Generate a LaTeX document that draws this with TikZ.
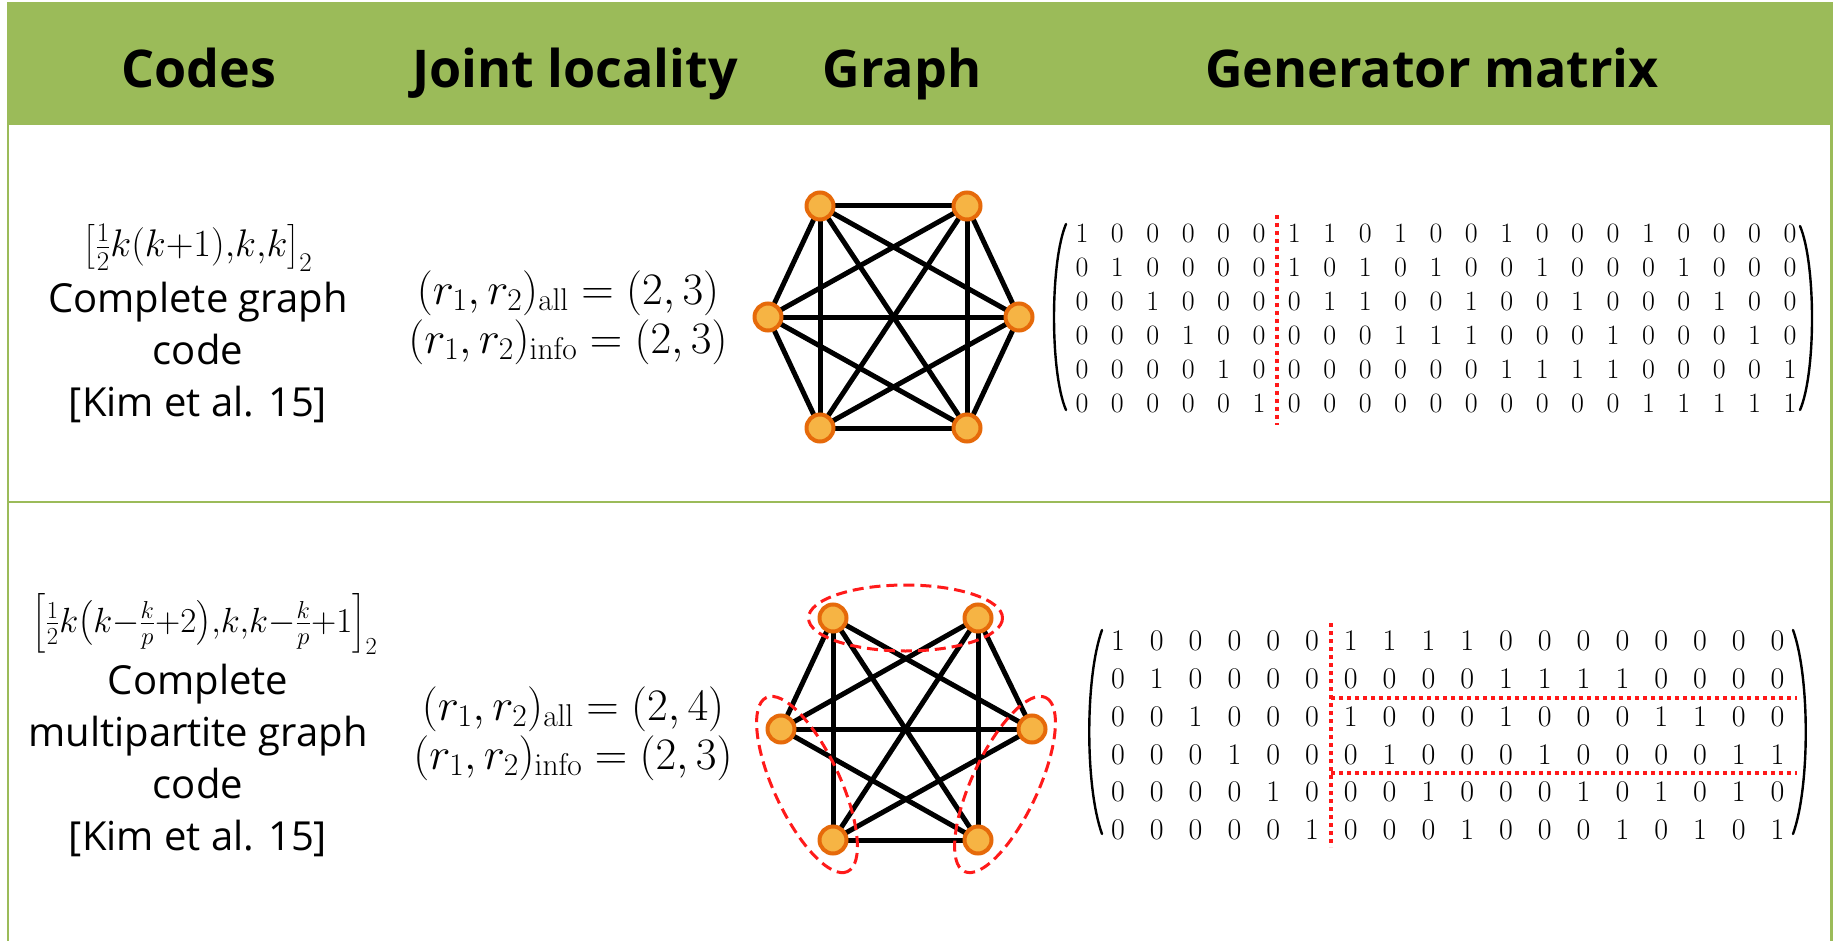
\RequirePackage{fix-cm}
\documentclass[tikz,border=0pt]{standalone}
\usepackage{amsmath}
\usepackage[no-math]{fontspec}
\setmainfont{Open Sans}
\usetikzlibrary{calc,backgrounds}

\definecolor{tablegreen}{HTML}{9BBB59}
\definecolor{vtxring}{HTML}{E66A0A}
\definecolor{vtxfill}{HTML}{F6B444}
\definecolor{cutred}{HTML}{FF1A1A}

\begin{document}
\begin{tikzpicture}[x=1pt,y=-1pt,
	vtx/.style={circle,draw=vtxring,fill=vtxfill,line width=4pt,minimum size=27pt,inner sep=0pt},
	link/.style={line width=5pt},
	cluster/.style={cutred,line width=3pt,dash pattern=on 11pt off 6pt},
	sepline/.style={cutred,line width=4pt,dash pattern=on 4pt off 4pt},
	paren/.style={line width=2.4pt,line cap=round},
	bit/.style={inner sep=0pt,font=\fontsize{28}{28}\selectfont},
	hdr/.style={anchor=base,font=\fontsize{52}{60}\selectfont\bfseries},
	body/.style={anchor=base,align=center,inner sep=1pt,font=\fontsize{40}{52}\selectfont},
	eq/.style={anchor=base,align=center,inner sep=1pt,font=\fontsize{38.5}{48}\selectfont},
	loc/.style={anchor=base,align=center,inner sep=1pt,font=\fontsize{45}{49}\selectfont}]
	\useasboundingbox (0,0) rectangle (1833,941);
	\begin{scope}[on background layer]
		\fill[white] (0,0) rectangle (1833,941);
	\end{scope}
	
	% table
	\fill[tablegreen] (7,2) rectangle (1833,125);
	\draw[tablegreen,line width=2.5pt] (8.2,125) -- (8.2,941)
		(1831.5,125) -- (1831.5,941)
		(8.2,502) -- (1831.5,502);
	\node[hdr] (h-codes) at (199,88) {Codes};
	\node[hdr] (h-loc)   at (575,88) {Joint locality};
	\node[hdr] (h-graph) at (902,88) {Graph};
	\node[hdr] (h-gen)   at (1432,88) {Generator matrix};
	
	% complete graph code
	\node[eq] (code-1) at (198,257) {$\left[\tfrac{1}{2}k(k{+}1){,}k{,}k\right]_2$};
	\node[body] (name-1) at (198,416) {Complete graph\\code\\{[Kim et al. 15]}};
	\node[loc] (loc-1) at (568,353) {$(r_1,r_2)_{\mathrm{all}}=(2,3)$\\$(r_1,r_2)_{\mathrm{info}}=(2,3)$};
	
	\node[vtx] (c-tl) at (820,206) {};
	\node[vtx] (c-tr) at (967,206) {};
	\node[vtx] (c-l)  at (768,317) {};
	\node[vtx] (c-r)  at (1019,317) {};
	\node[vtx] (c-bl) at (820,428) {};
	\node[vtx] (c-br) at (967,428) {};
	\begin{scope}[on background layer]
		\foreach \u/\v in {tl/tr,tl/l,tl/r,tl/bl,tl/br,tr/l,tr/r,tr/bl,tr/br,l/r,l/bl,l/br,r/bl,r/br,bl/br}
			\draw[link] (c-\u.center) -- (c-\v.center);
	\end{scope}
	
	\foreach \row [count=\r] in {{1,0,0,0,0,0,1,1,0,1,0,0,1,0,0,0,1,0,0,0,0},
			{0,1,0,0,0,0,1,0,1,0,1,0,0,1,0,0,0,1,0,0,0},
			{0,0,1,0,0,0,0,1,1,0,0,1,0,0,1,0,0,0,1,0,0},
			{0,0,0,1,0,0,0,0,0,1,1,1,0,0,0,1,0,0,0,1,0},
			{0,0,0,0,1,0,0,0,0,0,0,0,1,1,1,1,0,0,0,0,1},
			{0,0,0,0,0,1,0,0,0,0,0,0,0,0,0,0,1,1,1,1,1}}
		\foreach \b [count=\c] in \row
			\node[bit] (ga-\r-\c) at ({1082+(\c-1)*35.4},{233+(\r-1)*34}) {$\b$};
	\draw[paren] (1066,224) .. controls (1050,262) and (1050,373) .. (1066,410);
	\draw[paren] (1800,226) .. controls (1816,264) and (1816,373) .. (1800,410);
	\coordinate (sa-top) at ($(ga-1-6)!.5!(ga-1-7)+(0,-18)$);
	\coordinate (sa-bot) at ($(ga-6-6)!.5!(ga-6-7)+(0,22)$);
	\draw[sepline] (sa-top) -- (sa-bot);
	
	% complete multipartite graph code
	\node[eq,font=\fontsize{35}{48}\selectfont] (code-2) at (205,632) {$\left[\tfrac{1}{2}k\bigl(k{-}\tfrac{k}{p}{+}2\bigr){,}k{,}k{-}\tfrac{k}{p}{+}1\right]_2$};
	\node[body] (name-2) at (198,850) {Complete\\multipartite graph\\code\\{[Kim et al. 15]}};
	\node[loc] (loc-2) at (573,769) {$(r_1,r_2)_{\mathrm{all}}=(2,4)$\\$(r_1,r_2)_{\mathrm{info}}=(2,3)$};
	
	\node[vtx] (m-tl) at (833,618) {};
	\node[vtx] (m-tr) at (978,618) {};
	\node[vtx] (m-l)  at (781,729) {};
	\node[vtx] (m-r)  at (1032,729) {};
	\node[vtx] (m-bl) at (833,840) {};
	\node[vtx] (m-br) at (978,840) {};
	\begin{scope}[on background layer]
		\foreach \u/\v in {tl/l,tl/bl,tl/r,tl/br,tr/l,tr/bl,tr/r,tr/br,l/r,l/br,bl/r,bl/br}
			\draw[link] (m-\u.center) -- (m-\v.center);
	\end{scope}
	\coordinate (p-top) at ($(m-tl)!.5!(m-tr)$);
	\coordinate (p-left) at ($(m-l)!.5!(m-bl)$);
	\coordinate (p-right) at ($(m-r)!.5!(m-br)$);
	\draw[cluster] (p-top) ellipse [x radius=97,y radius=33];
	\draw[cluster,rotate around={-65:(p-left)}] (p-left) ellipse [x radius=96,y radius=33];
	\draw[cluster,rotate around={65:(p-right)}] (p-right) ellipse [x radius=96,y radius=33];
	
	\foreach \row [count=\r] in {{1,0,0,0,0,0,1,1,1,1,0,0,0,0,0,0,0,0},
			{0,1,0,0,0,0,0,0,0,0,1,1,1,1,0,0,0,0},
			{0,0,1,0,0,0,1,0,0,0,1,0,0,0,1,1,0,0},
			{0,0,0,1,0,0,0,1,0,0,0,1,0,0,0,0,1,1},
			{0,0,0,0,1,0,0,0,1,0,0,0,1,0,1,0,1,0},
			{0,0,0,0,0,1,0,0,0,1,0,0,0,1,0,1,0,1}}
		\foreach \b [count=\c] in \row
			\node[bit,font=\fontsize{30}{30}\selectfont] (gb-\r-\c) at ({1118+(\c-1)*38.8},{641+(\r-1)*37.8}) {$\b$};
	\draw[paren] (1102,630) .. controls (1085,677) and (1085,787) .. (1102,834);
	\draw[paren] (1793,630) .. controls (1810,677) and (1810,787) .. (1793,834);
	\coordinate (sb-top) at ($(gb-1-6)!.5!(gb-1-7)+(0,-18)$);
	\coordinate (sb-bot) at ($(gb-6-6)!.5!(gb-6-7)+(0,17)$);
	\draw[sepline] (sb-top) -- (sb-bot);
	\coordinate (sb-a) at ($(gb-2-6)!.5!(gb-3-7)$);
	\coordinate (sb-b) at ($(gb-4-6)!.5!(gb-5-7)$);
	\draw[sepline] (sb-a -| sb-top) -- ++(466,0);
	\draw[sepline] (sb-b -| sb-top) -- ++(466,0);
\end{tikzpicture}
\end{document}
